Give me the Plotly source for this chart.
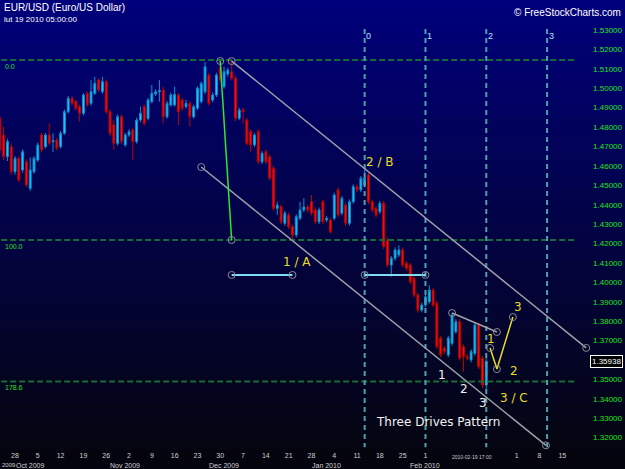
import plotly.graph_objects as go

# ---------------- data (EUR/USD daily, Sep 2009 - Feb 19 2010) ----------------
opens = [1.4845, 1.4759, 1.4647, 1.4699, 1.4570, 1.4639, 1.4579, 1.4621, 1.4484, 1.4570,
         1.4630, 1.4759, 1.4699, 1.4759, 1.4725, 1.4733, 1.4699, 1.4768, 1.4879, 1.4948,
         1.4931, 1.4905, 1.4871, 1.4974, 1.4922, 1.4974, 1.5042, 1.4982, 1.5034, 1.4879,
         1.4811, 1.4716, 1.4853, 1.4708, 1.4759, 1.4785, 1.4725, 1.4836, 1.4905, 1.4845,
         1.4931, 1.4970, 1.4982, 1.4991, 1.4853, 1.4914, 1.4914, 1.4965, 1.4939, 1.4905,
         1.4922, 1.4853, 1.4897, 1.4931, 1.4982, 1.5068, 1.4939, 1.4965, 1.5104, 1.5008,
         1.5073, 1.5085, 1.5051, 1.4845, 1.4888, 1.4836, 1.4776, 1.4708, 1.4776, 1.4621,
         1.4673, 1.4647, 1.4587, 1.4381, 1.4390, 1.4304, 1.4347, 1.4287, 1.4244, 1.4330,
         1.4373, 1.4388, 1.4415, 1.4373, 1.4312, 1.4415, 1.4321, 1.4321, 1.4330, 1.4476,
         1.4356, 1.4398, 1.4304, 1.4415, 1.4493, 1.4476, 1.4501, 1.4553, 1.4415, 1.4381,
         1.4364, 1.4407, 1.4218, 1.4089, 1.4124, 1.4141, 1.4167, 1.4098, 1.4089, 1.4021,
         1.3935, 1.3857, 1.3883, 1.3900, 1.3960, 1.3892, 1.3712, 1.3660, 1.3626, 1.3686,
         1.3746, 1.3797, 1.3668, 1.3617, 1.3600, 1.3634, 1.3780, 1.3609, 1.3471]
highs = [1.4860, 1.4802, 1.4740, 1.4715, 1.4650, 1.4650, 1.4685, 1.4635, 1.4644, 1.4650,
         1.4720, 1.4770, 1.4770, 1.4819, 1.4768, 1.4745, 1.4780, 1.4890, 1.4960, 1.4960,
         1.4940, 1.4915, 1.4975, 1.4985, 1.5042, 1.5059, 1.5052, 1.5059, 1.5045, 1.4890,
         1.4836, 1.4865, 1.4865, 1.4770, 1.4790, 1.4795, 1.4848, 1.4905, 1.4915, 1.4950,
         1.5017, 1.4995, 1.5042, 1.5008, 1.4935, 1.4978, 1.5008, 1.4975, 1.4950, 1.4940,
         1.4935, 1.4915, 1.5010, 1.5035, 1.5135, 1.5080, 1.4978, 1.5080, 1.5145, 1.5111,
         1.5105, 1.5140, 1.5065, 1.4900, 1.4900, 1.4848, 1.4788, 1.4770, 1.4788, 1.4676,
         1.4685, 1.4660, 1.4600, 1.4415, 1.4400, 1.4368, 1.4360, 1.4298, 1.4350, 1.4415,
         1.4434, 1.4400, 1.4450, 1.4385, 1.4385, 1.4427, 1.4342, 1.4333, 1.4462, 1.4488,
         1.4445, 1.4410, 1.4427, 1.4505, 1.4505, 1.4548, 1.4589, 1.4565, 1.4427, 1.4393,
         1.4420, 1.4420, 1.4230, 1.4136, 1.4180, 1.4190, 1.4180, 1.4110, 1.4100, 1.4033,
         1.3947, 1.3895, 1.3938, 1.3985, 1.3972, 1.3904, 1.3724, 1.3672, 1.3724, 1.3842,
         1.3810, 1.3810, 1.3680, 1.3630, 1.3655, 1.3792, 1.3792, 1.3621, 1.3626]
lows = [1.4665, 1.4630, 1.4625, 1.4555, 1.4555, 1.4515, 1.4565, 1.4490, 1.4470, 1.4560,
        1.4620, 1.4670, 1.4690, 1.4705, 1.4672, 1.4680, 1.4690, 1.4760, 1.4870, 1.4910,
        1.4885, 1.4828, 1.4860, 1.4905, 1.4910, 1.4965, 1.4980, 1.4972, 1.4868, 1.4755,
        1.4682, 1.4705, 1.4712, 1.4698, 1.4750, 1.4630, 1.4715, 1.4825, 1.4808, 1.4835,
        1.4922, 1.4960, 1.4931, 1.4819, 1.4843, 1.4905, 1.4905, 1.4811, 1.4885, 1.4895,
        1.4802, 1.4843, 1.4888, 1.4922, 1.4970, 1.4910, 1.4928, 1.4955, 1.5030, 1.4998,
        1.5060, 1.5040, 1.4830, 1.4835, 1.4819, 1.4705, 1.4673, 1.4698, 1.4610, 1.4610,
        1.4610, 1.4525, 1.4370, 1.4347, 1.4300, 1.4292, 1.4275, 1.4218, 1.4232, 1.4320,
        1.4362, 1.4360, 1.4345, 1.4300, 1.4300, 1.4300, 1.4310, 1.4250, 1.4320, 1.4335,
        1.4345, 1.4292, 1.4292, 1.4405, 1.4465, 1.4465, 1.4490, 1.4403, 1.4360, 1.4335,
        1.4352, 1.4172, 1.4077, 1.4029, 1.4112, 1.4130, 1.4077, 1.4060, 1.3990, 1.3922,
        1.3845, 1.3845, 1.3872, 1.3890, 1.3872, 1.3656, 1.3614, 1.3630, 1.3614, 1.3674,
        1.3735, 1.3597, 1.3540, 1.3597, 1.3588, 1.3622, 1.3553, 1.3455, 1.3445]
closes = [1.4682, 1.4647, 1.4725, 1.4570, 1.4639, 1.4527, 1.4673, 1.4501, 1.4579, 1.4639,
          1.4708, 1.4682, 1.4759, 1.4716, 1.4730, 1.4691, 1.4768, 1.4879, 1.4948, 1.4922,
          1.4897, 1.4871, 1.4965, 1.4914, 1.4982, 1.5025, 1.4991, 1.5034, 1.4879, 1.4768,
          1.4716, 1.4853, 1.4725, 1.4759, 1.4776, 1.4725, 1.4836, 1.4871, 1.4819, 1.4939,
          1.4974, 1.4982, 1.4987, 1.4853, 1.4922, 1.4965, 1.4968, 1.4879, 1.4897, 1.4922,
          1.4853, 1.4905, 1.5000, 1.5025, 1.5111, 1.4922, 1.4965, 1.5068, 1.5042, 1.5085,
          1.5094, 1.5051, 1.4845, 1.4888, 1.4878, 1.4716, 1.4708, 1.4759, 1.4621, 1.4665,
          1.4621, 1.4536, 1.4381, 1.4398, 1.4312, 1.4356, 1.4287, 1.4244, 1.4338, 1.4373,
          1.4388, 1.4373, 1.4356, 1.4312, 1.4373, 1.4312, 1.4330, 1.4261, 1.4450, 1.4347,
          1.4433, 1.4304, 1.4415, 1.4493, 1.4476, 1.4536, 1.4536, 1.4415, 1.4373, 1.4347,
          1.4407, 1.4184, 1.4089, 1.4124, 1.4167, 1.4167, 1.4089, 1.4072, 1.4003, 1.3935,
          1.3857, 1.3883, 1.3926, 1.3960, 1.3883, 1.3668, 1.3626, 1.3643, 1.3712, 1.3832,
          1.3797, 1.3609, 1.3617, 1.3609, 1.3643, 1.3780, 1.3565, 1.3471, 1.35938]

# x-axis: weekly ticks (candle index of each Monday) and month labels
week_tick_idx = [4 + 6 * k for k in range(25)]
week_tick_labels = ["28", "5", "12", "19", "26", "2", "9", "16", "23", "30", "7", "14", "21",
                    "28", "4", "11", "18", "25", "1", "", "", "", "1", "8", "15"]
month_idx = [7, 33, 59, 86, 112]
month_labels = ["Oct 2009", "Nov 2009", "Dec 2009", "Jan 2010", "Feb 2010"]

# y-axis ticks
price_ticks = [1.32, 1.33, 1.34, 1.35, 1.36, 1.37, 1.38, 1.39, 1.40, 1.41, 1.42,
               1.43, 1.44, 1.45, 1.46, 1.47, 1.48, 1.49, 1.50, 1.51, 1.52, 1.53]

# fibonacci levels
fib_high = 1.5145
fib_low = 1.4218
fib_ratios = [0.0, 100.0, 178.6]
fib_span = [-2, 151.4]

# time cycle lines
cycle_idx = [96, 112, 128, 144]
cycle_labels = ["0", "1", "2", "3"]
cycle_price_span = [1.5305, 1.3150]

# drawn lines
upper_channel_x = [61, 154.3]
upper_channel_y = [1.5140, 1.3662]
lower_channel_x = [53, 143.7]
lower_channel_y = [1.4594, 1.3160]
fib_anchor_x = [58, 61]
fib_anchor_y = [1.5140, 1.4218]
measure1_x = [61, 77]
measure1_y = [1.4038, 1.4038]
measure2_x = [96, 112]
measure2_y = [1.4038, 1.4038]
small_line_x = [119, 130.8]
small_line_y = [1.3842, 1.3744]
abc_x = [129, 130.8, 135]
abc_y = [1.3662, 1.3553, 1.3821]

yellow_text = ["2 / B", "1 / A", "3 / C", "1", "2", "3"]
yellow_x = [100.0, 78.2, 135.3, 129.3, 135.3, 136.4]
yellow_y = [1.4620, 1.4105, 1.3404, 1.3708, 1.3543, 1.3873]
white_text = ["1", "2", "3", "Three Drives Pattern"]
white_x = [116.4, 122.2, 127.2, 115.3]
white_y = [1.3523, 1.3450, 1.3378, 1.3280]

# ---------------- figure ----------------
W, H, PLOT_H = 625, 469, 450
idx = list(range(len(opens)))

fig = go.Figure()

# fib dashed levels
for r in fib_ratios:
    lvl = fib_high - r / 100.0 * (fib_high - fib_low)
    fig.add_trace(go.Scatter(x=fib_span, y=[lvl, lvl], mode="lines",
                             line=dict(color="#186c33", width=2, dash="6px,3px"),
                             hoverinfo="skip"))

# time cycle lines
for ci in cycle_idx:
    fig.add_trace(go.Scatter(x=[ci, ci], y=cycle_price_span, mode="lines",
                             line=dict(color="#4f9fae", width=2, dash="5px,4px"),
                             hoverinfo="skip"))

fig.add_trace(go.Candlestick(
    x=idx, open=opens, high=highs, low=lows, close=closes,
    increasing=dict(line=dict(color="#0b8fd0", width=1), fillcolor="#1cd0ff"),
    decreasing=dict(line=dict(color="#c00000", width=1), fillcolor="#ff1010"),
    whiskerwidth=0, hoverinfo="skip"))

marker_style = dict(symbol="circle-open", size=7, color="#8a8a9a", line=dict(width=1))


def add_line(xs, ys, color, width):
    fig.add_trace(go.Scatter(x=xs, y=ys, mode="lines", line=dict(color=color, width=width),
                             hoverinfo="skip"))
    fig.add_trace(go.Scatter(x=xs, y=ys, mode="markers", marker=marker_style,
                             hoverinfo="skip", cliponaxis=False))


add_line(upper_channel_x, upper_channel_y, "#a0a0a8", 1.5)
add_line(lower_channel_x, lower_channel_y, "#a0a0a8", 1.5)
add_line(fib_anchor_x, fib_anchor_y, "#2ee82e", 1.5)
add_line(measure1_x, measure1_y, "#80dcee", 2)
add_line(measure2_x, measure2_y, "#80dcee", 2)
add_line(small_line_x, small_line_y, "#a0a0a8", 1.5)
add_line(abc_x, abc_y, "#e6dc28", 1.5)

# background gradient (plot area) as stacked bands
shapes = []
nb = 50
for k in range(nb):
    t = k / (nb - 1)
    r = round(0 + 5 * t)
    g = round(0 + 5 * t)
    b = round(122 - 104 * t)
    shapes.append(dict(type="rect", xref="paper", yref="paper", x0=0, x1=1,
                       y0=1 - (k + 1) / nb, y1=1 - k / nb + 0.001,
                       fillcolor=f"rgb({r},{g},{b})", line=dict(width=0), layer="below"))

ann = []


def px(x):
    return x / W


def py(y):
    return 1 - y / PLOT_H


FONT = "Liberation Sans"
# header texts
ann.append(dict(text="EUR/USD (Euro/US Dollar)", xref="paper", yref="paper", x=px(2), y=py(7.5),
                xanchor="left", yanchor="middle", showarrow=False,
                font=dict(family=FONT, size=10, color="#ffffff")))
ann.append(dict(text="lut 19 2010 05:00:00", xref="paper", yref="paper", x=px(2), y=py(20),
                xanchor="left", yanchor="middle", showarrow=False,
                font=dict(family=FONT, size=8, color="#ffffff")))
ann.append(dict(text="© FreeStockCharts.com", xref="paper", yref="paper", x=px(623), y=py(13),
                xanchor="right", yanchor="middle", showarrow=False,
                font=dict(family=FONT, size=10, color="#ffffff")))

# fib labels
for r in fib_ratios:
    lvl = fib_high - r / 100.0 * (fib_high - fib_low)
    ann.append(dict(text=f"{r:.1f}", xref="paper", yref="y", x=px(3), y=lvl, yshift=-6,
                    xanchor="left", yanchor="middle", showarrow=False,
                    font=dict(family=FONT, size=7, color="#22e022")))

# cycle labels
for ci, lab in zip(cycle_idx, cycle_labels):
    ann.append(dict(text=lab, xref="x", yref="paper", x=ci, xshift=4, y=py(36),
                    xanchor="center", yanchor="middle", showarrow=False,
                    font=dict(family=FONT, size=9, color="#b0e6ff")))

# pattern labels
for t, x, y in zip(yellow_text, yellow_x, yellow_y):
    ann.append(dict(text=t, x=x, y=y, xref="x", yref="y", showarrow=False,
                    xanchor="center", yanchor="middle",
                    font=dict(family="DejaVu Sans", size=12, color="#e6dc28")))
for t, x, y in zip(white_text, white_x, white_y):
    ann.append(dict(text=t, x=x, y=y, xref="x", yref="y", showarrow=False,
                    xanchor="center", yanchor="middle",
                    font=dict(family="DejaVu Sans", size=12, color="#f2f2f2")))

# month labels
for k, (mi, ml) in enumerate(zip(month_idx, month_labels)):
    ann.append(dict(text=ml, x=mi, xref="x", xshift=4 if k == 0 else 0,
                    yref="paper", y=py(465), showarrow=False,
                    xanchor="center", yanchor="middle",
                    font=dict(family=FONT, size=7, color="#d0d0d0")))
ann.append(dict(text="2009", xref="paper", x=0, yref="paper", y=py(465), showarrow=False,
                xanchor="left", yanchor="middle", font=dict(family=FONT, size=6, color="#d0d0d0")))
# crosshair date label
ann.append(dict(text="2010-02-19 17:00", xref="paper", x=px(472), yref="paper", y=py(457),
                showarrow=False, xanchor="center", yanchor="middle",
                font=dict(family=FONT, size=5, color="#c8c8c8")))
# last price box
ann.append(dict(text=f"{closes[-1]:.5f}", xref="paper", x=1, xshift=-2, yref="y", y=closes[-1],
                xanchor="right", yanchor="middle", showarrow=False,
                bgcolor="#000000", bordercolor="#ffffff", borderwidth=1, borderpad=1,
                font=dict(family=FONT, size=8, color="#ffffff")))

fig.update_layout(
    width=W, height=H,
    margin=dict(l=0, r=0, t=0, b=H - PLOT_H),
    paper_bgcolor="#04040e", plot_bgcolor="rgba(0,0,0,0)",
    showlegend=False, shapes=shapes, annotations=ann,
    xaxis=dict(range=[0.05, 164.5], tickvals=week_tick_idx, ticktext=week_tick_labels,
               showgrid=False, zeroline=False, showline=False, ticks="",
               tickfont=dict(family=FONT, size=7, color="#d0d0d0"),
               rangeslider=dict(visible=False)),
    yaxis=dict(range=[1.313616, 1.545456], side="right", ticklabelposition="inside",
               tickvals=price_ticks, ticktext=[f"{p:.5f}" for p in price_ticks],
               showgrid=False, zeroline=False, showline=False, ticks="",
               tickfont=dict(family=FONT, size=8, color="#1ee61e")),
)

fig.write_html("out.html")
